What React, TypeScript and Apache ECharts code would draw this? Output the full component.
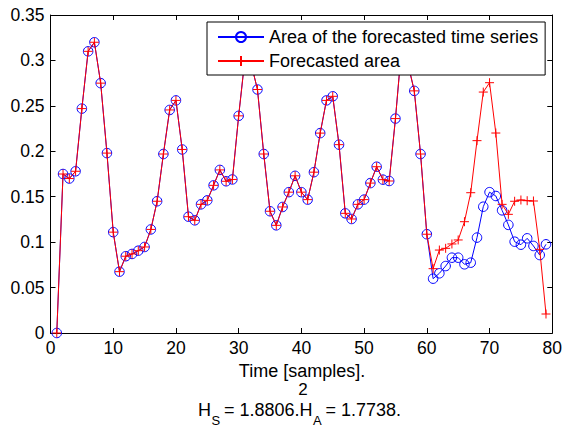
import React, { useEffect, useRef } from "react";
import * as echarts from "echarts";

const samples = [
  1, 2, 3, 4, 5, 6, 7, 8, 9, 10, 11, 12, 13, 14, 15, 16, 17, 18, 19, 20,
  21, 22, 23, 24, 25, 26, 27, 28, 29, 30, 31, 32, 33, 34, 35, 36, 37, 38, 39, 40,
  41, 42, 43, 44, 45, 46, 47, 48, 49, 50, 51, 52, 53, 54, 55, 56, 57, 58, 59, 60,
  61, 62, 63, 64, 65, 66, 67, 68, 69, 70, 71, 72, 73, 74, 75, 76, 77, 78, 79,
];

const actualArea = [
  0, 0.175, 0.17, 0.178, 0.247, 0.31, 0.32, 0.275, 0.198, 0.111,
  0.0675, 0.0845, 0.087, 0.0906, 0.0947, 0.114, 0.145, 0.197, 0.2455, 0.256,
  0.202, 0.128, 0.124, 0.1416, 0.146, 0.1625, 0.1795, 0.167, 0.169, 0.239,
  0.302, 0.296, 0.268, 0.197, 0.134, 0.1185, 0.1387, 0.155, 0.173, 0.155,
  0.1468, 0.177, 0.22, 0.256, 0.2605, 0.2073, 0.1317, 0.1255, 0.1416, 0.1468,
  0.165, 0.183, 0.1688, 0.1673, 0.236, 0.316, 0.296, 0.2665, 0.197, 0.1087,
  0.0598, 0.0657, 0.0737, 0.0829, 0.0829, 0.0756, 0.0774, 0.105, 0.139, 0.155,
  0.1508, 0.135, 0.119, 0.1005, 0.0972, 0.1042, 0.0958, 0.0858, 0.0976,
];

const forecastArea = [
  0, 0.175, 0.17, 0.178, 0.247, 0.31, 0.32, 0.275, 0.198, 0.111,
  0.0675, 0.0845, 0.087, 0.0906, 0.0947, 0.114, 0.145, 0.197, 0.2455, 0.256,
  0.202, 0.128, 0.124, 0.1416, 0.146, 0.1625, 0.1795, 0.167, 0.169, 0.239,
  0.302, 0.296, 0.268, 0.197, 0.134, 0.1185, 0.1387, 0.155, 0.173, 0.155,
  0.1468, 0.177, 0.22, 0.256, 0.2605, 0.2073, 0.1317, 0.1255, 0.1416, 0.1468,
  0.165, 0.183, 0.1688, 0.1673, 0.236, 0.316, 0.296, 0.2665, 0.197, 0.1087,
  0.0708, 0.0913, 0.0932, 0.098, 0.1024, 0.1225, 0.1544, 0.2117, 0.2652, 0.2755,
  0.2201, 0.1416, 0.1306, 0.145, 0.1464, 0.1456, 0.1453, 0.0921, 0.0209,
];

const seriesNames = ["Area of the forecasted time series", "Forecasted area"];
const xLabel = "Time [samples].";
const noteLine1 = "2";
// [text, isSubscript]
const noteParts: [string, boolean][] = [
  ["H", false],
  ["S", true],
  ["= 1.8806.H", false],
  ["A", true],
  ["= 1.7738.", false],
];

const FONT = "'Liberation Sans', Arial, Helvetica, sans-serif";

export default function App() {
  const ref = useRef<HTMLDivElement>(null);

  useEffect(() => {
    if (!ref.current) return;
    const chart = echarts.init(ref.current, undefined, { renderer: "svg" });

    const axisCommonX = {
      type: "value",
      min: 0,
      max: 80,
      interval: 10,
      splitLine: { show: false },
      axisLine: { show: true, onZero: false, lineStyle: { color: "#000", width: 1 } },
      axisTick: { show: true, inside: true, length: 5, lineStyle: { color: "#000" } },
    };
    const axisCommonY = {
      type: "value",
      min: 0,
      max: 0.35,
      interval: 0.05,
      splitLine: { show: false },
      axisLine: { show: true, onZero: false, lineStyle: { color: "#000", width: 1 } },
      axisTick: { show: true, inside: true, length: 5, lineStyle: { color: "#000" } },
    };

    // horizontal start positions of the note pieces
    const partX = [198, 211.5, 224, 313, 325.5];
    const noteGraphics = noteParts.map(([t, sub], i) => ({
      type: "text",
      x: partX[i],
      y: sub ? 420.5 : 410,
      style: {
        text: t,
        fill: "#000",
        fontSize: sub ? 13 : 18,
        lineHeight: sub ? 11 : 14,
        fontFamily: FONT,
        align: "left",
        verticalAlign: "middle",
      },
    }));

    const option: any = {
      animation: false,
      backgroundColor: "#fff",
      textStyle: { fontFamily: FONT },
      grid: { left: 50.5, right: 10, top: 15, bottom: 95, containLabel: false },
      xAxis: [
        {
          ...axisCommonX,
          position: "bottom",
          axisLabel: { show: true, color: "#000", fontSize: 17.5, fontFamily: FONT, margin: 6 },
        },
        {
          ...axisCommonX,
          position: "top",
          axisLabel: { show: false },
        },
      ],
      yAxis: [
        {
          ...axisCommonY,
          position: "left",
          axisLabel: { show: true, color: "#000", fontSize: 17.5, fontFamily: FONT, margin: 6 },
        },
        {
          ...axisCommonY,
          position: "right",
          axisLabel: { show: false },
        },
      ],
      legend: {
        show: true,
        orient: "vertical",
        left: 207,
        top: 22,
        padding: [6, 7, 5, 10],
        itemWidth: 46,
        itemHeight: 12.5,
        itemGap: 6,
        itemTextGap: 6,
        backgroundColor: "#fff",
        borderColor: "#000",
        borderWidth: 1,
        borderRadius: 0,
        textStyle: { color: "#000", fontSize: 18, fontFamily: FONT },
        data: seriesNames,
      },
      series: [
        {
          name: seriesNames[0],
          type: "line",
          xAxisIndex: 0,
          yAxisIndex: 0,
          data: samples.map((s, i) => [s, actualArea[i]]),
          symbol: "circle",
          symbolSize: 9.5,
          showAllSymbol: true,
          lineStyle: { color: "#0000ff", width: 1 },
          itemStyle: { color: "none", borderColor: "#0000ff", borderWidth: 1 },
          emphasis: { disabled: true },
          z: 2,
        },
        {
          name: seriesNames[1],
          type: "line",
          xAxisIndex: 0,
          yAxisIndex: 0,
          data: samples.map((s, i) => [s, forecastArea[i]]),
          symbol: "path://M0,5L10,5M5,0L5,10",
          symbolSize: 9,
          showAllSymbol: true,
          lineStyle: { color: "#ff0000", width: 1 },
          itemStyle: { color: "#ff0000", borderColor: "#ff0000", borderWidth: 1 },
          emphasis: { disabled: true },
          z: 3,
        },
      ],
      graphic: [
        {
          type: "text",
          x: 302,
          y: 371,
          style: {
            text: xLabel,
            fill: "#000",
            fontSize: 18,
            fontFamily: FONT,
            align: "center",
            verticalAlign: "middle",
          },
        },
        {
          type: "text",
          x: 303,
          y: 389.5,
          style: {
            text: noteLine1,
            fill: "#000",
            fontSize: 17,
            lineHeight: 14,
            fontFamily: FONT,
            align: "center",
            verticalAlign: "middle",
          },
        },
        ...noteGraphics,
      ],
    };

    chart.setOption(option);
    return () => chart.dispose();
  }, []);

  return (
    <div
      ref={ref}
      style={{ position: "fixed", left: 0, top: 0, width: 565, height: 428 }}
    />
  );
}
